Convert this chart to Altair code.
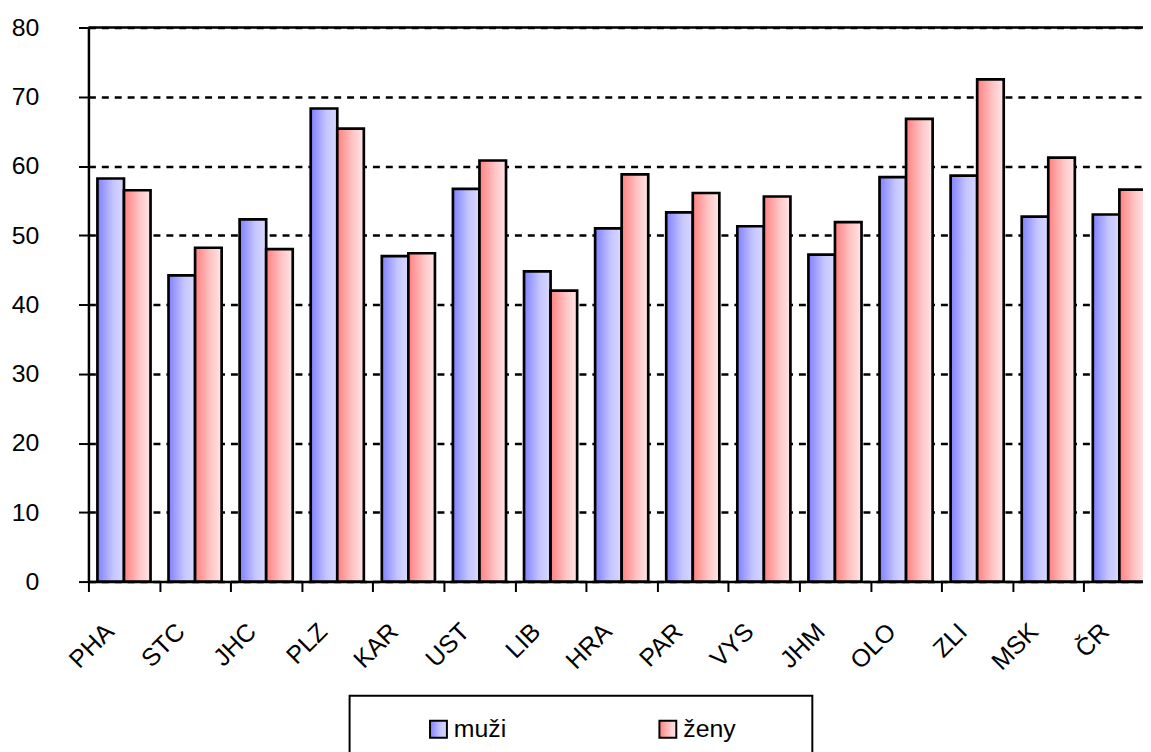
import altair as alt
import pandas as pd

regions = ["PHA", "STC", "JHC", "PLZ", "KAR", "UST", "LIB", "HRA", "PAR", "VYS", "JHM", "OLO", "ZLI", "MSK", "ČR"]
muzi = [58.2, 44.2, 52.3, 68.3, 47.0, 56.7, 44.8, 51.0, 53.3, 51.3, 47.2, 58.4, 58.6, 52.7, 53.0]
zeny = [56.5, 48.2, 48.0, 65.4, 47.4, 60.8, 42.0, 58.8, 56.1, 55.6, 51.9, 66.8, 72.5, 61.2, 56.6]
series = ["muži", "ženy"]
y_ticks = [0, 10, 20, 30, 40, 50, 60, 70, 80]

rows = []
for r, m, z in zip(regions, muzi, zeny):
    rows.append({"kraj": r, "pohlavi": series[0], "hodnota": m})
    rows.append({"kraj": r, "pohlavi": series[1], "hodnota": z})
df = pd.DataFrame(rows)

FONT = "Liberation Sans"
FS = 25
blue_grad = ("{gradient: 'linear', x1: 0, y1: 0, x2: 1, y2: 0, stops: ["
             "{offset: 0, color: '#8080ff'}, {offset: 0.6, color: '#c6c6ff'}, {offset: 1, color: '#d8d8ff'}]}")
red_grad = ("{gradient: 'linear', x1: 0, y1: 0, x2: 1, y2: 0, stops: ["
            "{offset: 0, color: '#ff8080'}, {offset: 0.6, color: '#ffc6c6'}, {offset: 1, color: '#ffe6e6'}]}")

PAD = "\u00a0" * 8 + "\u200b"
label_expr = "datum.label == 'ženy' ? datum.label + '" + PAD + "' : datum.label"

bars = alt.Chart(df).mark_bar(stroke="black", strokeWidth=2.7).encode(
    x=alt.X("kraj:N", sort=regions, title=None,
            scale=alt.Scale(range=[0, 1074], paddingInner=0.253, paddingOuter=0.1265),
            axis=alt.Axis(labelAngle=-45, labelAlign="right", labelBaseline="middle",
                          labelPadding=36, tickSize=10, tickWidth=2, tickColor="black",
                          tickOffset=-35.8, labelOffset=21,
                          domainColor="black", domainWidth=2.5,
                          labelFont=FONT, labelFontSize=FS, labelColor="black")),
    xOffset=alt.XOffset("pohlavi:N", sort=series, scale=alt.Scale(paddingInner=0, paddingOuter=0)),
    y=alt.Y("hodnota:Q", title=None,
            scale=alt.Scale(domain=[0, 80], nice=False),
            axis=alt.Axis(values=y_ticks, grid=True, gridDash=[7, 6], gridColor="black", gridWidth=2.5,
                          gridOpacity=1, tickSize=10, tickWidth=2, tickColor="black",
                          domainColor="black", domainWidth=2.5, labelPadding=40,
                          labelFont=FONT, labelFontSize=FS, labelColor="black")),
    color=alt.Color("pohlavi:N", sort=series,
                    scale=alt.Scale(domain=series, range=[alt.ExprRef(blue_grad), alt.ExprRef(red_grad)]),
                    legend=alt.Legend(orient="none", legendX=263, legendY=673, direction="horizontal",
                                      columns=2, title="\u00a0", titleOrient="left", titlePadding=56,
                                      titleFontSize=22, symbolType="square", symbolSize=289,
                                      symbolStrokeColor="black", symbolStrokeWidth=2,
                                      labelFont=FONT, labelFontSize=FS, labelColor="black",
                                      labelOffset=3, labelExpr=label_expr,
                                      columnPadding=150, padding=21,
                                      strokeColor="black", fillColor="white")),
)

top_rule = alt.Chart().mark_rule(color="black", strokeWidth=2.5).encode(y=alt.datum(80))

chart = alt.layer(bars, top_rule).properties(
    width=1062, height=558,
    autosize=alt.AutoSizeParams(type="none"),
    padding={"left": 81, "top": 17, "right": 0, "bottom": 169},
).configure_view(stroke=None).configure_legend(strokeWidth=2)

chart.save("out.html", embed_options={"renderer": "svg", "actions": False})
